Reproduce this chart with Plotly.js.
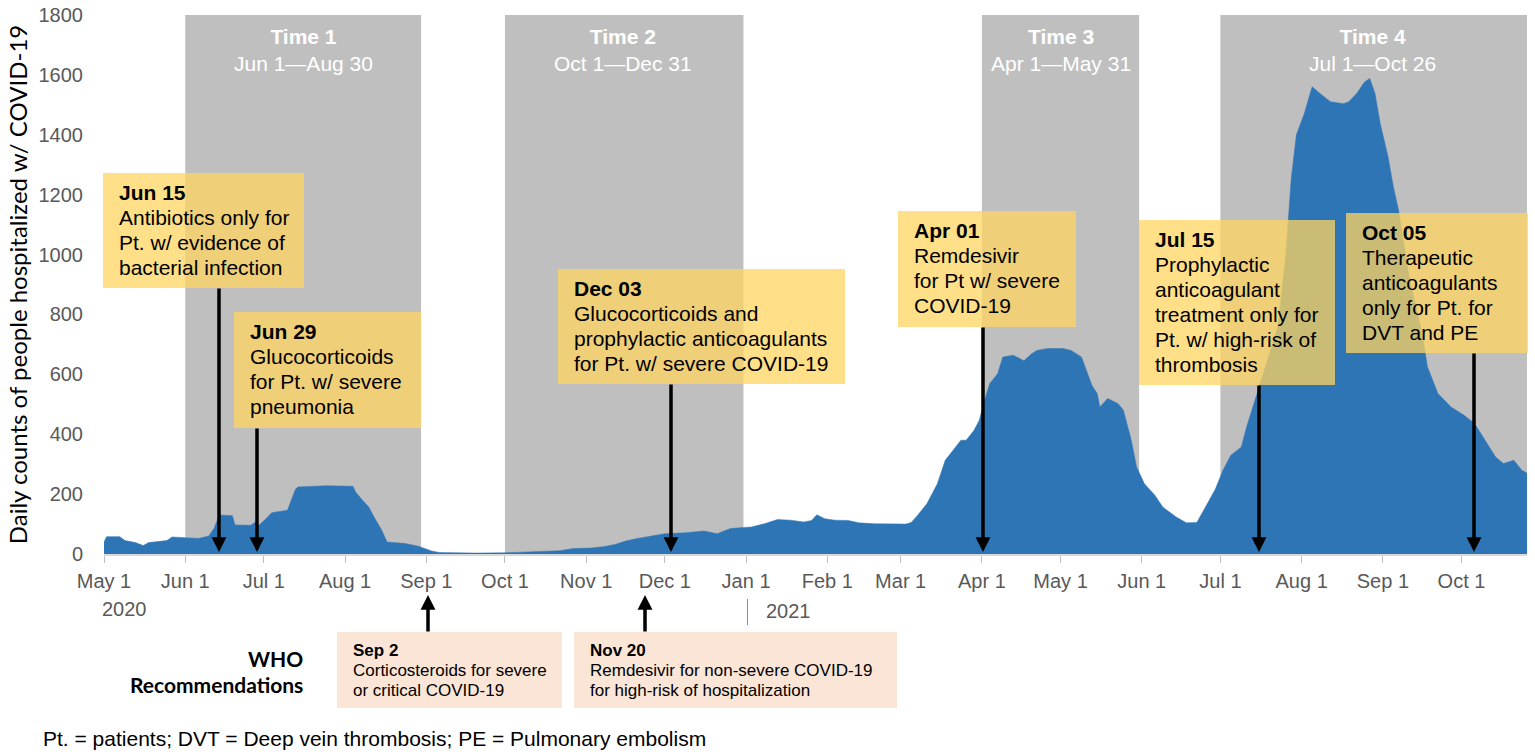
<!DOCTYPE html>
<html><head><meta charset="utf-8">
<script src="https://cdn.plot.ly/plotly-3.0.1.min.js"></script>
<style>html,body{margin:0;padding:0;background:#fff;overflow:hidden}#chart{width:1535px;height:755px}</style>
</head><body><div id="chart"></div>
<script>
// ---------- DATA ----------
const dates = ['2020-05-01','2020-05-02','2020-05-07','2020-05-09','2020-05-13','2020-05-16','2020-05-18','2020-05-25','2020-05-27','2020-05-31',
'2020-06-06','2020-06-10','2020-06-12','2020-06-14','2020-06-19','2020-06-20','2020-06-26','2020-06-28','2020-06-29','2020-07-02',
'2020-07-04','2020-07-10','2020-07-11','2020-07-13','2020-07-14','2020-07-25','2020-08-04','2020-08-05','2020-08-07','2020-08-10',
'2020-08-12','2020-08-15','2020-08-17','2020-08-24','2020-08-29','2020-08-31','2020-09-03','2020-09-06','2020-09-20','2020-10-01',
'2020-10-14','2020-10-22','2020-10-27','2020-11-03','2020-11-08','2020-11-12','2020-11-16','2020-11-20','2020-11-26','2020-12-01',
'2020-12-09','2020-12-16','2020-12-21','2020-12-26','2020-12-30','2021-01-03','2021-01-08','2021-01-13','2021-01-18','2021-01-23',
'2021-01-26','2021-01-28','2021-01-31','2021-02-04','2021-02-09','2021-02-13','2021-02-19','2021-03-03','2021-03-05','2021-03-07',
'2021-03-11','2021-03-15','2021-03-18','2021-03-22','2021-03-24','2021-03-26','2021-03-29','2021-03-31','2021-04-02','2021-04-04',
'2021-04-07','2021-04-09','2021-04-13','2021-04-17','2021-04-20','2021-04-22','2021-04-26','2021-05-02','2021-05-05','2021-05-09',
'2021-05-11','2021-05-13','2021-05-15','2021-05-16','2021-05-19','2021-05-23','2021-05-25','2021-05-28','2021-05-30','2021-06-02',
'2021-06-06','2021-06-09','2021-06-14','2021-06-18','2021-06-22','2021-06-25','2021-06-29','2021-07-02','2021-07-05','2021-07-09',
'2021-07-11','2021-07-13','2021-07-15','2021-07-19','2021-07-23','2021-07-26','2021-07-28','2021-07-30','2021-08-02','2021-08-04',
'2021-08-05','2021-08-08','2021-08-12','2021-08-17','2021-08-19','2021-08-22','2021-08-25','2021-08-27','2021-08-29','2021-08-31',
'2021-09-03','2021-09-05','2021-09-07','2021-09-11','2021-09-16','2021-09-18','2021-09-22','2021-09-27','2021-10-02','2021-10-06',
'2021-10-10','2021-10-14','2021-10-17','2021-10-21','2021-10-24','2021-10-26'];
const hospitalized = [40,58,58,45,38,28,38,45,57,55,
52,60,86,130,128,97,96,108,95,119,
138,146,169,215,224,228,226,207,186,157,
124,79,40,35,26,19,10,5,3,4,
7,11,18,20,25,32,43,51,60,68,
71,77,68,85,88,90,101,115,113,107,
112,131,118,113,112,104,101,100,105,124,
168,235,313,357,380,380,413,447,513,569,
602,658,664,645,669,680,686,686,680,658,
608,563,536,491,519,502,480,380,291,235,
196,157,124,104,105,150,215,280,330,357,
424,480,536,647,760,1000,1250,1400,1470,1530,
1560,1538,1510,1504,1510,1538,1576,1588,1538,1437,
1326,1226,1148,925,736,625,536,491,463,436,
380,324,302,313,280,270];

const tickDates = ['2020-05-01','2020-06-01','2020-07-01','2020-08-01','2020-09-01','2020-10-01','2020-11-01','2020-12-01',
'2021-01-01','2021-02-01','2021-03-01','2021-04-01','2021-05-01','2021-06-01','2021-07-01','2021-08-01','2021-09-01','2021-10-01'];
const tickLabels = ['May 1','Jun 1','Jul 1','Aug 1','Sep 1','Oct 1','Nov 1','Dec 1','Jan 1','Feb 1','Mar 1','Apr 1','May 1','Jun 1','Jul 1','Aug 1','Sep 1','Oct 1'];
const yearLabels = ['2020','2021'];

const periodNames = ['Time 1','Time 2','Time 3','Time 4'];
const periodRanges = ['Jun 1\u2014Aug 30','Oct 1\u2014Dec 31','Apr 1\u2014May 31','Jul 1\u2014Oct 26'];
const periodStart = ['2020-06-01','2020-10-01','2021-04-01','2021-07-01'];
const periodEnd = ['2020-08-30','2020-12-31','2021-05-31','2021-10-26'];

const guideHeads = ['Jun 15','Jun 29','Dec 03','Apr 01','Jul 15','Oct 05'];
const guideBodies = [
  ['Antibiotics only for','Pt. w/ evidence of','bacterial infection'],
  ['Glucocorticoids','for Pt. w/ severe','pneumonia'],
  ['Glucocorticoids and','prophylactic anticoagulants','for Pt. w/ severe COVID-19'],
  ['Remdesivir','for Pt w/ severe','COVID-19'],
  ['Prophylactic','anticoagulant','treatment only for','Pt. w/ high-risk of','thrombosis'],
  ['Therapeutic','anticoagulants','only for Pt. for','DVT and PE']
];
const whoHeads = ['Sep 2','Nov 20'];
const whoBodies = [
  ['Corticosteroids for severe','or critical COVID-19'],
  ['Remdesivir for non-severe COVID-19','for high-risk of hospitalization']
];
const whoTitle = ['WHO','Recommendations'];
const footnote = 'Pt. = patients; DVT = Deep vein thrombosis; PE = Pulmonary embolism';
const yTitle = 'Daily counts of people hospitalized w/ COVID-19';

// ---------- LAYOUT HELPERS (pixel placement) ----------
const W=1535,H=755,ML=104,MR=8,MT=15,MB=201;
const PW=W-ML-MR, PH=H-MT-MB, BASE=H-MB;
const px = p => (p-ML)/PW;
const py = p => (BASE-p)/PH;
const ARIAL = 'Liberation Sans, Arial, sans-serif';

// box geometry: [left, top, right, bottom, arrowX]
const guideBoxes = [[103,173,304,288,219],[234,312,421,428,257],[558,269,845,384,671],
                    [898,211,1076,327,983],[1139,220,1335,385,1259],[1346,213,1528,353,1474]];
const whoBoxes = [[337,632,562,708,428],[574,632,897,708,645]];

const shapes = [], annotations = [];

periodStart.forEach((s,i)=>{
  shapes.push({type:'rect',xref:'x',yref:'y',x0:s,x1:periodEnd[i],y0:0,y1:1800,
    fillcolor:'#BFBFBF',line:{width:0},layer:'below'});
  const mid = new Date((Date.parse(s)+Date.parse(periodEnd[i]))/2).toISOString().slice(0,10);
  annotations.push({xref:'x',yref:'paper',x:mid,y:py(50),xanchor:'center',yanchor:'middle',showarrow:false,
    text:'<b>'+periodNames[i]+'</b><br>'+periodRanges[i],font:{family:ARIAL,size:21,color:'#FFFFFF'}});
});

guideBoxes.forEach((b,i)=>{
  shapes.push({type:'rect',xref:'paper',yref:'paper',x0:px(b[0]),x1:px(b[2]),y0:py(b[3]),y1:py(b[1]),
    fillcolor:'rgba(255,212,95,0.75)',line:{width:0},layer:'above'});
  const lines = ['<b>'+guideHeads[i]+'</b>'].concat(guideBodies[i]);
  lines.forEach((t,k)=>{
    annotations.push({xref:'paper',yref:'paper',x:px(b[0]+14),y:py(b[1]+19.5+25*k),xanchor:'left',yanchor:'middle',
      showarrow:false,text:t,font:{family:ARIAL,size:21,color:'#000'}});
  });
  annotations.push({xref:'paper',yref:'paper',x:px(b[4]),y:py(BASE-2),text:'',showarrow:true,
    axref:'pixel',ayref:'pixel',ax:0,ay:-(BASE-2-b[3]),arrowhead:2,arrowsize:0.85,arrowwidth:3.5,arrowcolor:'#000',standoff:0,borderpad:0});
});

whoBoxes.forEach((b,i)=>{
  shapes.push({type:'rect',xref:'paper',yref:'paper',x0:px(b[0]),x1:px(b[2]),y0:py(b[3]),y1:py(b[1]),
    fillcolor:'#FBE5D6',line:{width:0},layer:'above'});
  const lines = ['<b>'+whoHeads[i]+'</b>'].concat(whoBodies[i]);
  lines.forEach((t,k)=>{
    annotations.push({xref:'paper',yref:'paper',x:px(b[0]+14),y:py(b[1]+18+20*k),xanchor:'left',yanchor:'middle',
      showarrow:false,text:t,font:{family:ARIAL,size:17,color:'#000'}});
  });
  annotations.push({xref:'paper',yref:'paper',x:px(b[4]),y:py(595),text:'',showarrow:true,
    axref:'pixel',ayref:'pixel',ax:0,ay:(b[1]-595),arrowhead:2,arrowsize:0.85,arrowwidth:3.5,arrowcolor:'#000',standoff:0,borderpad:0});
});

whoTitle.forEach((t,k)=>{
  annotations.push({xref:'paper',yref:'paper',x:px(305),y:py(658+26*k),xanchor:'right',yanchor:'middle',showarrow:false,
    text:'<b>'+t+'</b>',font:{family:'Lato, '+ARIAL,size:21,color:'#000'}});
});

// year labels under the axis
annotations.push({xref:'paper',yref:'paper',x:px(100),y:py(609),xanchor:'left',yanchor:'middle',showarrow:false,
  text:yearLabels[0],font:{family:ARIAL,size:20,color:'#595959'}});
annotations.push({xref:'paper',yref:'paper',x:px(764),y:py(611),xanchor:'left',yanchor:'middle',showarrow:false,
  text:yearLabels[1],font:{family:ARIAL,size:20,color:'#595959'}});
shapes.push({type:'line',xref:'paper',yref:'paper',x0:px(747.5),x1:px(747.5),y0:py(599),y1:py(625),line:{color:'#8C8C8C',width:1}});

annotations.push({xref:'paper',yref:'paper',x:px(41),y:py(738),xanchor:'left',yanchor:'middle',showarrow:false,
  text:footnote,font:{family:ARIAL,size:21,color:'#000'}});

const trace = {x:dates,y:hospitalized,type:'scatter',mode:'lines',fill:'tozeroy',
  line:{color:'#2E75B6',width:0.5,shape:'linear'},fillcolor:'#2E75B6',hoverinfo:'skip'};

const layout = {
  width:W,height:H,margin:{l:ML,r:MR,t:MT,b:MB},paper_bgcolor:'#fff',plot_bgcolor:'#fff',showlegend:false,
  xaxis:{type:'date',range:['2020-05-01','2021-10-26'],tickmode:'array',tickvals:tickDates,ticktext:tickLabels,
    showgrid:false,zeroline:false,showline:true,linecolor:'#D9D9D9',linewidth:1.5,ticks:'outside',ticklen:7,tickcolor:'#BFBFBF',
    tickfont:{family:ARIAL,size:20,color:'#595959'},ticklabelstandoff:1},
  yaxis:{range:[0,1800],tickvals:[0,200,400,600,800,1000,1200,1400,1600,1800],showgrid:false,zeroline:false,showline:false,
    ticks:'',tickfont:{family:ARIAL,size:20,color:'#595959'},ticklabelstandoff:20,
    title:{text:yTitle,font:{family:'Lato, '+ARIAL,size:24,color:'#000'},standoff:4}},
  shapes:shapes,annotations:annotations
};
Plotly.newPlot('chart',[trace],layout,{staticPlot:true,displayModeBar:false});
</script></body></html>
